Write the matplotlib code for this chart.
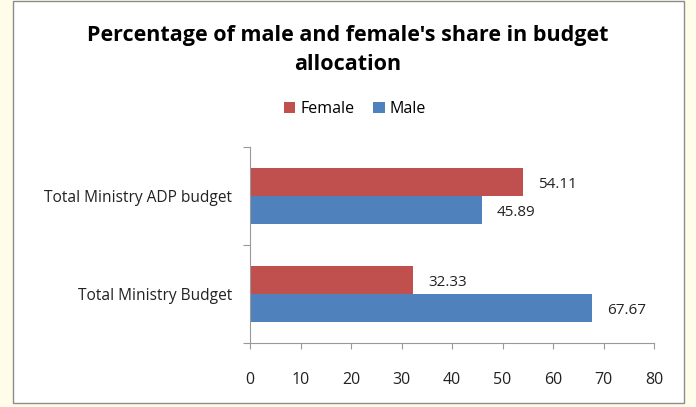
import matplotlib
matplotlib.use("Agg")
import matplotlib.pyplot as plt
import numpy as np
from matplotlib.patches import Rectangle

plt.rcParams["font.family"] = ["Open Sans", "DejaVu Sans"]

categories = ["Total Ministry Budget", "Total Ministry ADP budget"]
female = [32.33, 54.11]
male = [67.67, 45.89]
xticks = list(range(0, 90, 10))

RED = "#C0504D"
BLUE = "#4F81BD"

fig = plt.figure(figsize=(6.96, 4.07), dpi=100, facecolor="#FFFDE9")
# white chart area with grey frame, behind the axes
fig.patches.append(Rectangle((13 / 696, 1 - 403 / 407), 671 / 696, 402 / 407,
                             transform=fig.transFigure, facecolor="white",
                             edgecolor="#8C8C8C", lw=1.0, zorder=-10))

ax = fig.add_axes([250 / 696, 1 - 343 / 407, 404 / 696, 196 / 407])
ax.set_facecolor("white")

y = np.arange(len(categories))
h = 0.285
ax.barh(y + h / 2, female, h, color=RED, label="Female")
ax.barh(y - h / 2, male, h, color=BLUE, label="Male")

# value labels sit a little below the bar centre, as in the original
for yi, v in zip(y + h / 2, female):
    ax.text(v + 3, yi - 0.03, f"{v:.2f}", va="center", ha="left", fontsize=11, color="#222222")
for yi, v in zip(y - h / 2, male):
    ax.text(v + 3, yi - 0.03, f"{v:.2f}", va="center", ha="left", fontsize=11, color="#222222")

ax.set_xlim(0, 80)
ax.set_ylim(-0.5, 1.5)
ax.set_xticks(xticks)
ax.set_xticklabels([str(t) for t in xticks], fontsize=11.5, color="#222222")
ax.tick_params(axis="x", length=4, color="#999999", pad=17)
ax.set_yticks([-0.5, 0.5, 1.5])
ax.set_yticklabels([])
ax.set_yticks(y, minor=True)
ax.set_yticklabels(categories, minor=True, fontsize=11.2, color="#222222")
ax.tick_params(axis="y", which="major", length=5, color="#999999")
ax.tick_params(axis="y", which="minor", length=0, pad=13)

for s in ["top", "right"]:
    ax.spines[s].set_visible(False)
for s in ["left", "bottom"]:
    ax.spines[s].set_color("#999999")

fig.text(0.5, 1 - 36 / 407, "Percentage of male and female's share in budget",
         ha="center", va="center", fontsize=15.5, fontweight="bold")
fig.text(0.5, 1 - 65 / 407, "allocation", ha="center", va="center",
         fontsize=15.5, fontweight="bold")

ax.legend(loc="center", bbox_to_anchor=(355 / 696, 1 - 109 / 407),
          bbox_transform=fig.transFigure, ncol=2, frameon=False, fontsize=11.5,
          handlelength=0.7, handleheight=0.7, handletextpad=0.3, columnspacing=1.2)

fig.savefig("out.png", dpi=100, facecolor=fig.get_facecolor())
